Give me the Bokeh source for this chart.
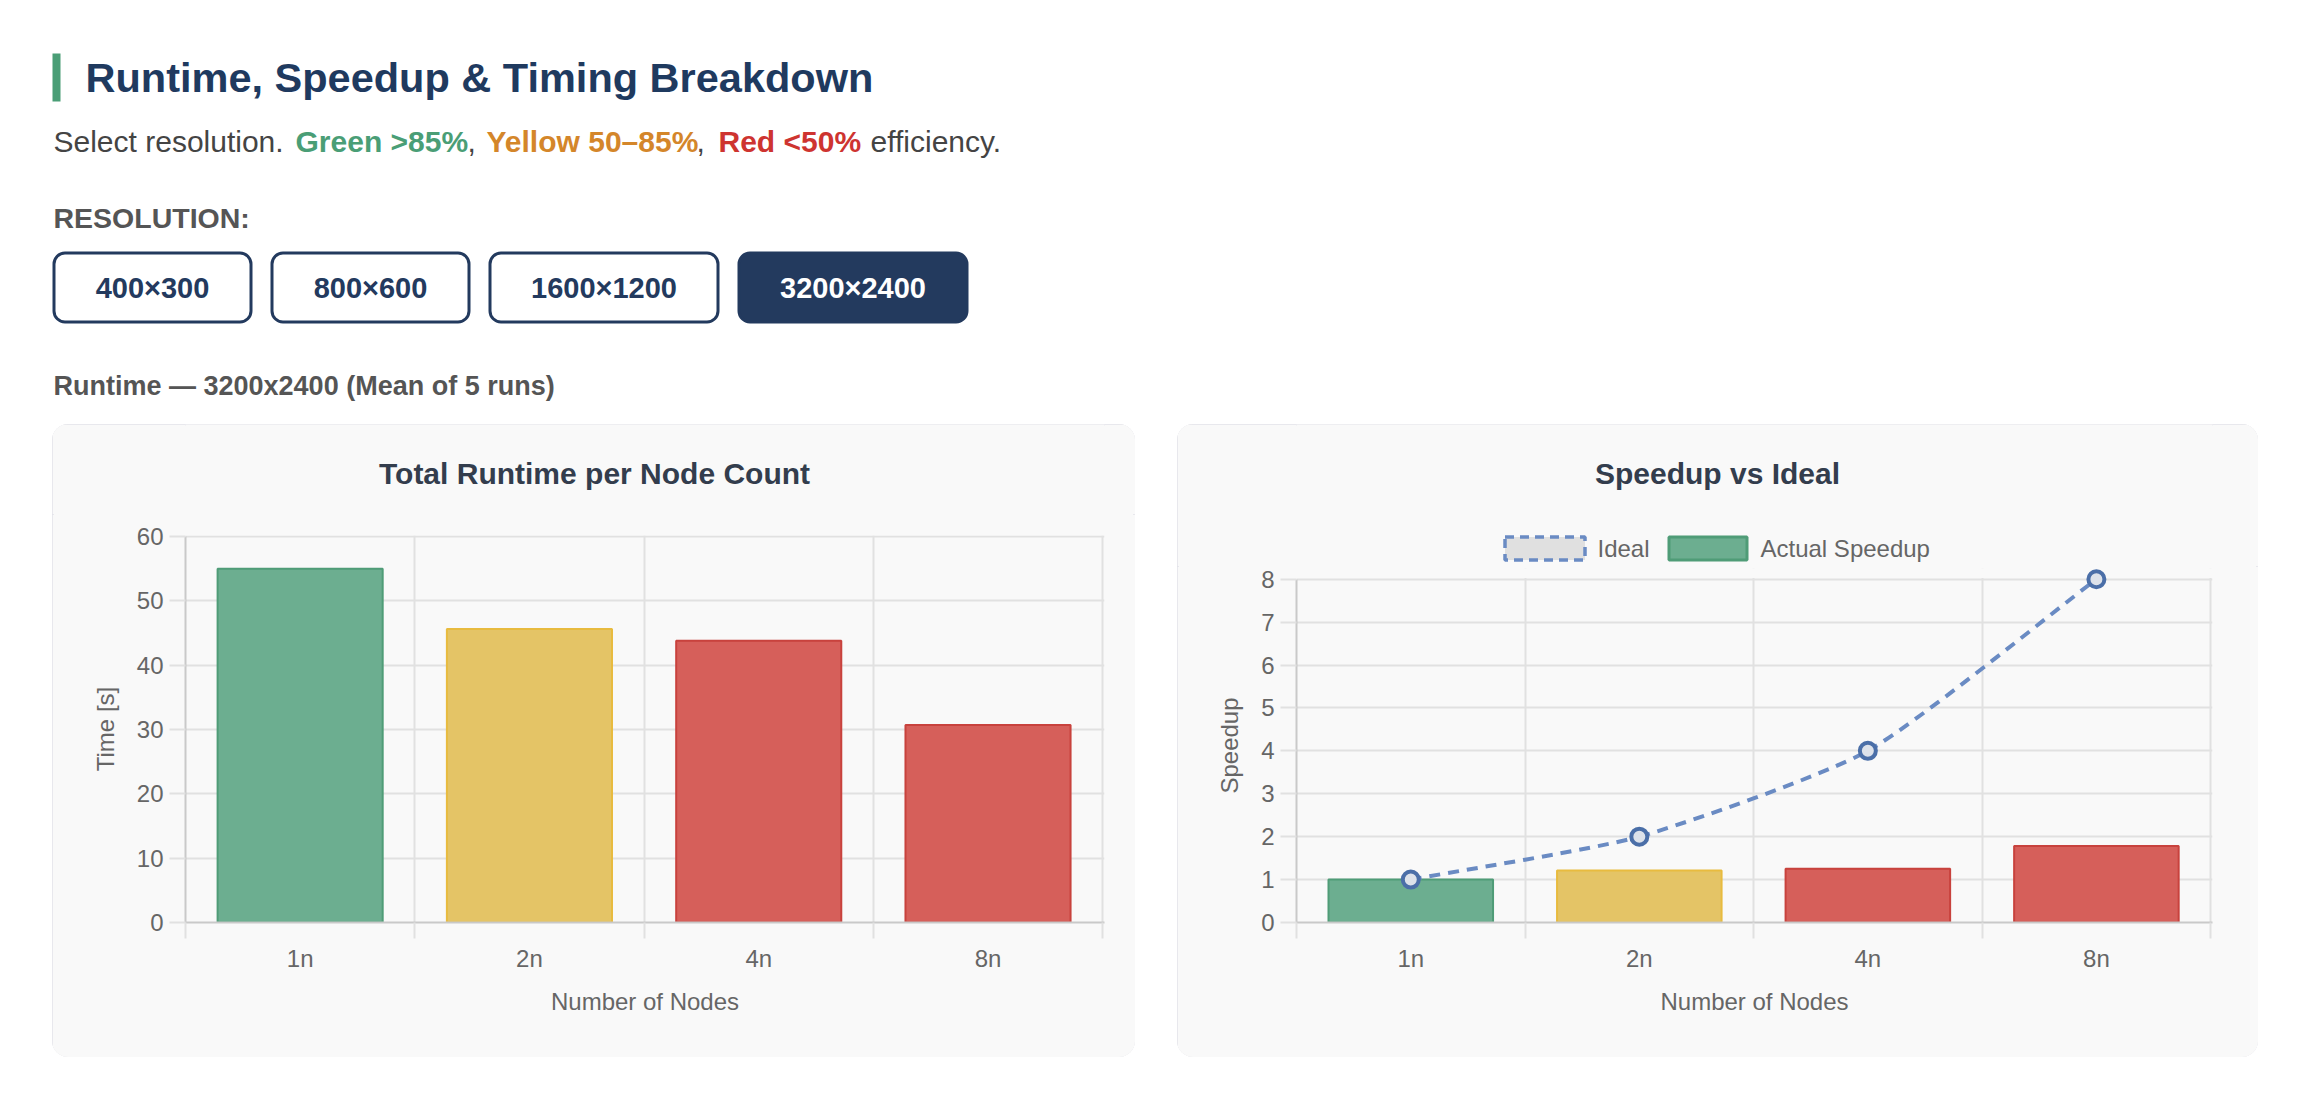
import math
from bokeh.plotting import figure
from bokeh.models import (Range1d, FixedTicker, SingleIntervalTicker, LinearAxis, Grid,
                          ColumnDataSource, Spacer, BoxAnnotation)
from bokeh.layouts import column, row
from bokeh.core.properties import value
from bokeh.embed import file_html
from bokeh.resources import INLINE

# ---------------- data ----------------
nodes = ["1n", "2n", "4n", "8n"]
node_counts = [1, 2, 4, 8]
runtime_s = [55.0, 45.6, 43.8, 30.7]
speedup = [1.0, 1.21, 1.25, 1.78]
ideal_speedup = [1, 2, 4, 8]
resolutions = ["400×300", "800×600", "1600×1200", "3200×2400"]
active_resolution = "3200×2400"
runtime_title = "Runtime — 3200x2400 (Mean of 5 runs)"
legend_labels = ["Ideal", "Actual Speedup"]

# ---------------- style ----------------
FONT = "Liberation Sans"
PAGE_BG = "#ffffff"
PANEL_BG = "#f9f9f9"
NAVY = "#233a5e"
TITLE_C = "#1f3a5f"
CHART_TITLE_C = "#333d4d"
GRID_C = "#e1e1e1"
AXIS_C = "#c9c9c9"
TXT_C = "#666666"
FILL = {"green": "#6cae90", "yellow": "#e4c466", "red": "#d65f5a"}
EDGE = {"green": "#4f9c77", "yellow": "#e8bb3f", "red": "#c8423d"}
IDEAL_C = "#6a8bc3"
MARK_C = "#4b6fa8"

W = 2302
HDR_H = 424
PANEL_H = 633


def eff_class(s, n):
    e = s / n
    if e > 0.85:
        return "green"
    if e >= 0.5:
        return "yellow"
    return "red"


classes = [eff_class(s, n) for s, n in zip(speedup, node_counts)]


def pixel_fig(width, height, bg, x0=None, x1=None):
    # x range in canvas pixels; (x0, x1) is where the frame ends up after the column
    # aligns this figure's frame with the chart figure below it
    x0 = 0 if x0 is None else x0
    x1 = width if x1 is None else x1
    f = figure(width=width, height=height, x_range=Range1d(x0, x1), y_range=Range1d(height, 0),
               output_backend="svg", toolbar_location=None, min_border=0,
               x_axis_type=None, y_axis_type=None, outline_line_color=None,
               background_fill_color=bg, border_fill_color=bg)
    return f


def ptext(f, x, y, s, size, color, bold=False, align="left"):
    f.text(x=[x], y=[y], text=[s], text_font=value(FONT), text_font_size=size,
           text_color=color, text_font_style="bold" if bold else "normal",
           text_align=align, text_baseline="middle")


# ---------------- header ----------------
hdr = pixel_fig(W, HDR_H, PAGE_BG)
hdr.quad(left=[52], right=[60], top=[53], bottom=[101], fill_color="#4a9e76", line_color=None)
ptext(hdr, 85, 77, "Runtime, Speedup & Timing Breakdown", "41.5px", TITLE_C, bold=True)

sub_parts = [
    (53, "Select resolution.", "#444444", False),
    (295, "Green >85%", "#4a9e76", True),
    (467, ",", "#444444", False),
    (486, "Yellow 50–85%", "#d4862a", True),
    (696, ",", "#444444", False),
    (718, "Red <50%", "#ce3430", True),
    (870, "efficiency.", "#444444", False),
]
for x, s, c, b in sub_parts:
    ptext(hdr, x, 141, s, "30px", c, bold=b)

ptext(hdr, 53, 217, "RESOLUTION:", "28.5px", "#555555", bold=True)

btn_left = [52, 270, 488, 737]
btn_right = [252, 470, 719, 968]
bw = 3
active = [r == active_resolution for r in resolutions]
hdr.quad(left=[v + bw / 2 for v in btn_left], right=[v - bw / 2 for v in btn_right],
         top=[251 + bw / 2] * 4, bottom=[323 - bw / 2] * 4,
         fill_color=[NAVY if a else "#ffffff" for a in active],
         line_color=NAVY, line_width=bw, border_radius=11)
hdr.text(x=[(a + b) / 2 for a, b in zip(btn_left, btn_right)], y=[287] * 4, text=resolutions,
         text_font=value(FONT), text_font_size="29px", text_font_style="bold",
         text_color=["#ffffff" if a else NAVY for a in active],
         text_align="center", text_baseline="middle")

ptext(hdr, 53, 385, runtime_title, "27px", "#555555", bold=True)

# ---------------- charts ----------------
PANEL_STYLE = {"border-radius": "16px", "overflow": "hidden", "background-color": PANEL_BG,
               "outline": "2px solid #e2e2e8", "outline-offset": "-2px"}


def make_chart(width, height, frame, x_end, y_end, y_interval, y_bound, y_label):
    l, r, t, b = frame
    p = figure(width=width, height=height, x_range=Range1d(0, x_end), y_range=Range1d(0, y_end),
               output_backend="svg", toolbar_location=None, x_axis_type=None, y_axis_type=None,
               min_border_left=l, min_border_right=r, min_border_top=t, min_border_bottom=b,
               background_fill_color=PANEL_BG, border_fill_color=PANEL_BG,
               outline_line_color=None, title=None)
    n = len(nodes)
    bax = LinearAxis(ticker=FixedTicker(ticks=list(range(n + 1))),
                     major_label_text_font_size="0px", major_label_standoff=0,
                     major_label_overrides={i: "" for i in range(n + 1)},
                     major_tick_out=16, major_tick_in=0, major_tick_line_color=GRID_C,
                     major_tick_line_width=2, minor_tick_line_color=None,
                     axis_line_color=AXIS_C, axis_line_width=2)
    lax = LinearAxis(ticker=FixedTicker(ticks=[i + 0.5 for i in range(n)]),
                     major_label_overrides={i + 0.5: nodes[i] for i in range(n)},
                     major_tick_line_color=None, minor_tick_line_color=None, axis_line_color=None,
                     major_tick_out=0, major_tick_in=0, major_label_standoff=6,
                     major_label_text_font=FONT, major_label_text_font_size="24px",
                     major_label_text_color=TXT_C,
                     axis_label="Number of Nodes", axis_label_standoff=13,
                     axis_label_text_font=FONT, axis_label_text_font_size="24px",
                     axis_label_text_font_style="normal", axis_label_text_color=TXT_C)
    yax = LinearAxis(ticker=SingleIntervalTicker(interval=y_interval, num_minor_ticks=0),
                     bounds=(0, y_bound),
                     major_tick_out=16, major_tick_in=0, major_tick_line_color=GRID_C,
                     major_tick_line_width=2, minor_tick_line_color=None,
                     axis_line_color=AXIS_C, axis_line_width=2, major_label_standoff=6,
                     major_label_text_font=FONT, major_label_text_font_size="24px",
                     major_label_text_color=TXT_C,
                     axis_label=y_label, axis_label_standoff=15,
                     axis_label_text_font=FONT, axis_label_text_font_size="24px",
                     axis_label_text_font_style="normal", axis_label_text_color=TXT_C)
    p.add_layout(bax, "below")
    p.add_layout(lax, "below")
    p.add_layout(yax, "left")
    p.add_layout(Grid(dimension=0, ticker=bax.ticker, grid_line_color=GRID_C, grid_line_width=2))
    p.add_layout(Grid(dimension=1, ticker=yax.ticker, grid_line_color=GRID_C, grid_line_width=2))
    return p


xs = [i + 0.5 for i in range(len(nodes))]

# ---- left panel: runtime ----
P1_W, P1_TOP = 1083, 90
F1 = (133, 31, 21, 135)
t1 = pixel_fig(P1_W, P1_TOP, PANEL_BG, F1[0], P1_W - F1[1])
ptext(t1, 542, 49, "Total Runtime per Node Count", "30px", CHART_TITLE_C, bold=True, align="center")
p1 = make_chart(P1_W, PANEL_H - P1_TOP, F1, 4.008, 60.15, 10, 60, "Time [s]")
src1 = ColumnDataSource(dict(x=xs, top=runtime_s, fill=[FILL[c] for c in classes],
                             edge=[EDGE[c] for c in classes], node=nodes))
p1.vbar(x="x", top="top", bottom=0, width=0.72, source=src1, fill_color="fill",
        line_color="edge", line_width=2)
panel1 = column(t1, p1, spacing=0, styles=PANEL_STYLE)

# ---- right panel: speedup ----
P2_W, P2_TOP = 1081, 142
F2 = (119, 46, 2, 135)
t2 = pixel_fig(P2_W, P2_TOP, PANEL_BG, F2[0], P2_W - F2[1])
ptext(t2, 540, 49, "Speedup vs Ideal", "30px", CHART_TITLE_C, bold=True, align="center")
# legend swatches + labels
t2.quad(left=[327.5], right=[407.5], top=[112.5], bottom=[135.5], fill_color="#e0e0e0",
        line_color=IDEAL_C, line_width=3.5, line_dash="9 6")
ptext(t2, 420, 124, legend_labels[0], "24px", TXT_C)
t2.quad(left=[491.5], right=[569.5], top=[112.5], bottom=[135.5], fill_color=FILL["green"],
        line_color=EDGE["green"], line_width=3)
ptext(t2, 583, 124, legend_labels[1], "24px", TXT_C)

p2 = make_chart(P2_W, PANEL_H - P2_TOP, F2, 4.008, 8.25, 1, 8, "Speedup")
p2.add_layout(BoxAnnotation(bottom=8.03, fill_color=PANEL_BG, fill_alpha=1.0,
                            line_color=None, level="underlay"))
src2 = ColumnDataSource(dict(x=xs, top=speedup, fill=[FILL[c] for c in classes],
                             edge=[EDGE[c] for c in classes], node=nodes))
p2.vbar(x="x", top="top", bottom=0, width=0.72, source=src2, fill_color="fill",
        line_color="edge", line_width=2)

# Chart.js-style spline (tension) control points, computed in pixel space
KX, KY, TENSION = 229.0, 42.875, 0.2
P = [(x * KX, y * KY) for x, y in zip(xs, ideal_speedup)]
prev_c, next_c = [], []
for i in range(len(P)):
    pv = P[i - 1] if i > 0 else P[i]
    cu = P[i]
    nx = P[i + 1] if i < len(P) - 1 else P[i]
    d01 = math.hypot(cu[0] - pv[0], cu[1] - pv[1])
    d12 = math.hypot(nx[0] - cu[0], nx[1] - cu[1])
    s01 = d01 / (d01 + d12)
    s12 = d12 / (d01 + d12)
    fa, fb = TENSION * s01, TENSION * s12
    prev_c.append((cu[0] - fa * (nx[0] - pv[0]), cu[1] - fa * (nx[1] - pv[1])))
    next_c.append((cu[0] + fb * (nx[0] - pv[0]), cu[1] + fb * (nx[1] - pv[1])))
seg = dict(x0=xs[:-1], y0=ideal_speedup[:-1], x1=xs[1:], y1=ideal_speedup[1:],
           cx0=[c[0] / KX for c in next_c[:-1]], cy0=[c[1] / KY for c in next_c[:-1]],
           cx1=[c[0] / KX for c in prev_c[1:]], cy1=[c[1] / KY for c in prev_c[1:]])
p2.bezier(x0="x0", y0="y0", x1="x1", y1="y1", cx0="cx0", cy0="cy0", cx1="cx1", cy1="cy1",
          source=ColumnDataSource(seg), line_color=IDEAL_C, line_width=4, line_dash="11 8")
p2.scatter(x=xs, y=ideal_speedup, size=16, marker="circle", line_color=MARK_C,
           line_width=4, fill_color="#dde2ea")
panel2 = column(t2, p2, spacing=0, styles=PANEL_STYLE)

layout = column(hdr,
                row(Spacer(width=52, height=PANEL_H), panel1, Spacer(width=42, height=PANEL_H),
                    panel2, spacing=0),
                spacing=0)

open("out.html", "w").write(file_html(layout, INLINE))
